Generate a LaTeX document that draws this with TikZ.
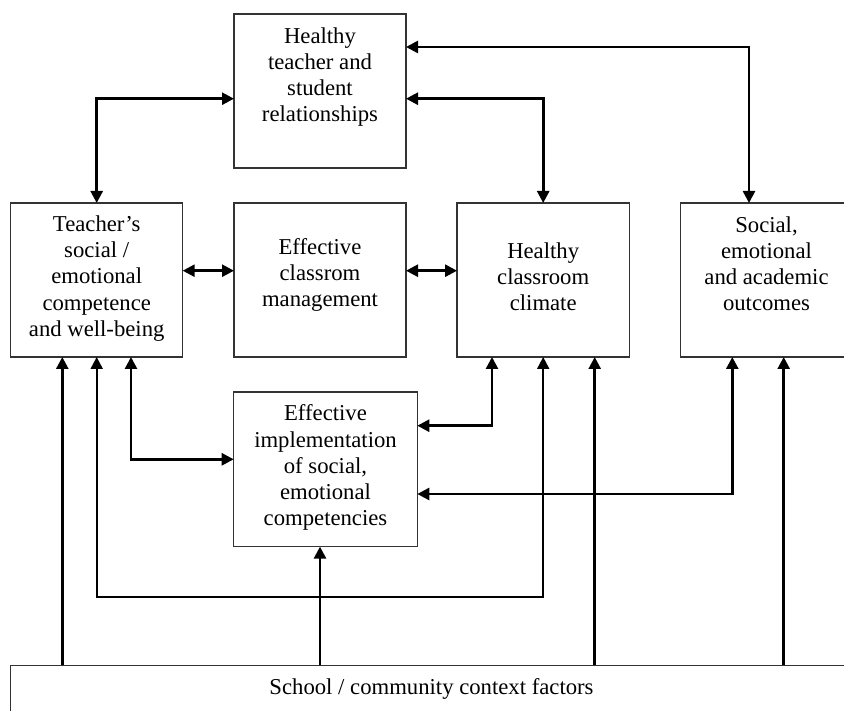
\documentclass[tikz,border=0pt]{standalone}
\usepackage{fontspec}
\setmainfont{Liberation Serif}
\usetikzlibrary{arrows.meta,calc}

\tikzset{
  box/.style={draw=black!80, line width=1.2pt, rectangle, inner sep=0pt, outer sep=0pt},
  label text/.style={align=center, inner sep=0pt,
    font=\fontsize{22.7}{26.2}\selectfont},
  tip/.style={Triangle[length=12pt,width=12pt]},
  conn/.style={line width=2.6pt, draw=black, arrows={-Triangle[length=12pt,width=12pt]}},
  biconn/.style={line width=2.6pt, draw=black,
    arrows={Triangle[length=12pt,width=12pt]-Triangle[length=12pt,width=12pt]}},
}

\begin{document}
\begin{tikzpicture}[x=1pt, y=-1pt]
  \useasboundingbox (0,0) rectangle (844,711);
  \clip (0,0) rectangle (844,711);

  % boxes
  \node[box, minimum width=172pt,   minimum height=154pt]   (top)  at (320,91)      {};
  \node[box, minimum width=172pt,   minimum height=154pt]   (tch)  at (96.7,280)    {};
  \node[box, minimum width=172pt,   minimum height=154pt]   (ecm)  at (320,280)     {};
  \node[box, minimum width=172.3pt, minimum height=154pt]   (clim) at (543.2,280)   {};
  \node[box, minimum width=171.6pt, minimum height=154pt]   (out)  at (766.5,280)   {};
  \node[box, minimum width=183.6pt, minimum height=154.7pt] (impl) at (325.5,469.3) {};
  \node[box, minimum width=841.6pt, minimum height=60pt]    (ctx)  at (431.5,695.3) {};

  % box texts
  \node[label text] (toptxt)  at (320,77.2)   {\strut Healthy\\\strut teacher and\\\strut student\\\strut relationships};
  \node[label text] (tchtxt)  at (96.7,278.6) {\strut Teacher’s\\\strut social /\\\strut emotional\\\strut competence\\\strut and well-being};
  \node[label text] (ecmtxt)  at (320,275.5)  {\strut Effective\\\strut classrom\\\strut management};
  \node[label text] (climtxt) at (543.2,279)  {\strut Healthy\\\strut classroom\\\strut climate};
  \node[label text] (outtxt)  at (766.5,266.2){\strut Social,\\\strut emotional\\\strut and academic\\\strut outcomes};
  \node[label text] (impltxt) at (325.5,468)  {\strut Effective\\\strut implementation\\\strut of social,\\\strut emotional\\\strut competencies};
  \node[label text] (ctxtxt)  at (431.5,689.7){\strut School / community context factors};

  % attachment points
  \coordinate (tchA) at ($(tch.south)+(-34.4,0)$);
  \coordinate (tchC) at ($(tch.south)+(34.3,0)$);
  \coordinate (climA) at ($(clim.south)+(-51.2,0)$);
  \coordinate (climC) at ($(clim.south)+(51.5,0)$);
  \coordinate (outA) at ($(out.south)+(-34.2,0)$);
  \coordinate (outB) at ($(out.south)+(17.2,0)$);
  \coordinate (implB) at ($(impl.south)+(-5.5,0)$);
  \coordinate (lowrail) at (320,597);

  % links around the top box
  \draw[biconn] (tch.north) |- ($(top.west)+(0,7.7)$);
  \draw[biconn] ($(top.east)+(0,7.7)$) -| (clim.north);
  \draw[biconn] ($(top.east)+(0,-44)$) -| ($(out.north)+(-17.5,0)$);

  % links along the middle row
  \draw[biconn] ($(tch.east)+(0,-9.3)$) -- ($(ecm.west)+(0,-9.3)$);
  \draw[biconn] ($(ecm.east)+(0,-9.3)$) -- ($(clim.west)+(0,-9.3)$);

  % links to the implementation box
  \draw[biconn] (tchC) |- ($(impl.west)+(0,-10)$);
  \draw[biconn] (climA) |- ($(impl.east)+(0,-43.6)$);
  \draw[biconn] (outA) |- ($(impl.east)+(0,24.7)$);

  % teacher and climate joined below
  \draw[biconn, line width=2pt] (tch.south) |- (lowrail) -| (clim.south);

  % context factors feeding upward
  \draw[conn] (ctx.north -| tchA) -- (tchA);
  \draw[conn] (ctx.north -| implB) -- (implB);
  \draw[conn] (ctx.north -| climC) -- (climC);
  \draw[conn] (ctx.north -| outB) -- (outB);
\end{tikzpicture}
\end{document}
